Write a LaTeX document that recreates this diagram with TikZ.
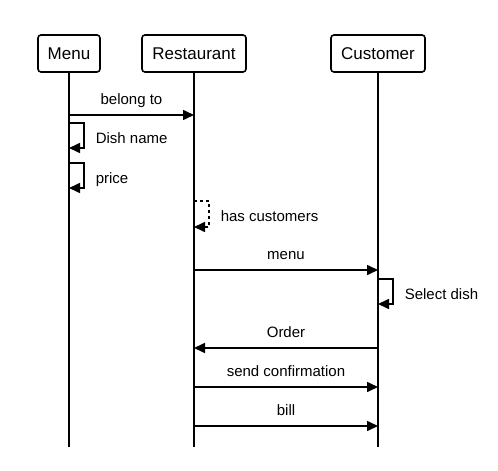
\documentclass[tikz,border=0pt]{standalone}
\usepackage{fontspec}
\setmainfont{Liberation Sans}
\usetikzlibrary{positioning, arrows.meta}

\begin{document}
\begin{tikzpicture}[
  actor/.style={rectangle, draw=black, line width=1.6pt, rounded corners=3pt, minimum height=37pt, inner sep=2pt, outer sep=0pt, font=\fontsize{17}{20}\selectfont},
  life/.style={line width=1.6pt},
  msg/.style={line width=1.6pt, -{Triangle[length=11pt, width=10pt]}},
  reply/.style={msg, dash pattern=on 3pt off 3pt},
  lbl/.style={font=\fontsize{15}{18}\selectfont, inner sep=2pt, text height=11pt, text depth=3pt},
  loop/.style={lbl, right=9pt, yshift=-3.5pt}
]

\useasboundingbox (0,0) rectangle (498pt,-471pt);

% Lifeline heads placed relatively
\node[actor, minimum width=62pt] (M) at (69pt,-53.5pt) {Menu};
\node[actor, minimum width=104pt, right=42pt of M] (R) {Restaurant};
\node[actor, minimum width=94pt, right=85pt of R] (C) {Customer};

% Lifeline ends
\coordinate[below=375pt of M.south] (M_end);
\coordinate[below=375pt of R.south] (R_end);
\coordinate[below=375pt of C.south] (C_end);

\draw[life] (M) -- (M_end);
\draw[life] (R) -- (R_end);
\draw[life] (C) -- (C_end);

% Message rows
\coordinate (BT) at (0,-115pt);
\coordinate (DN) at (0,-123pt);
\coordinate (PR) at (0,-163pt);
\coordinate (HC) at (0,-201pt);
\coordinate (MN) at (0,-270pt);
\coordinate (SD) at (0,-279pt);
\coordinate (OR) at (0,-348pt);
\coordinate (SC) at (0,-387pt);
\coordinate (BL) at (0,-426pt);

% Messages between lifelines
\draw[msg] (M |- BT) -- node[lbl, above=4.5pt] {belong to} (R |- BT);
\draw[msg] (R |- MN) -- node[lbl, above=4.5pt] {menu} (C |- MN);
\draw[msg] (C |- OR) -- node[lbl, above=4.5pt] {Order} (R |- OR);
\draw[msg] (R |- SC) -- node[lbl, above=4.5pt] {send confirmation} (C |- SC);
\draw[msg] (R |- BL) -- node[lbl, above=4.5pt] {bill} (C |- BL);

% Self messages
\draw[msg] (M |- DN) -- ++(15pt,0) -- node[loop] {Dish name} ++(0,-25pt) -- ++(-15pt,0);
\draw[msg] (M |- PR) -- ++(15pt,0) -- node[loop] {price} ++(0,-25pt) -- ++(-15pt,0);
\draw[reply] (R |- HC) -- ++(15pt,0) -- node[loop] {has customers} ++(0,-26pt) -- ++(-15pt,0);
\draw[msg] (C |- SD) -- ++(15pt,0) -- node[loop] {Select dish} ++(0,-25pt) -- ++(-15pt,0);

\end{tikzpicture}
\end{document}
